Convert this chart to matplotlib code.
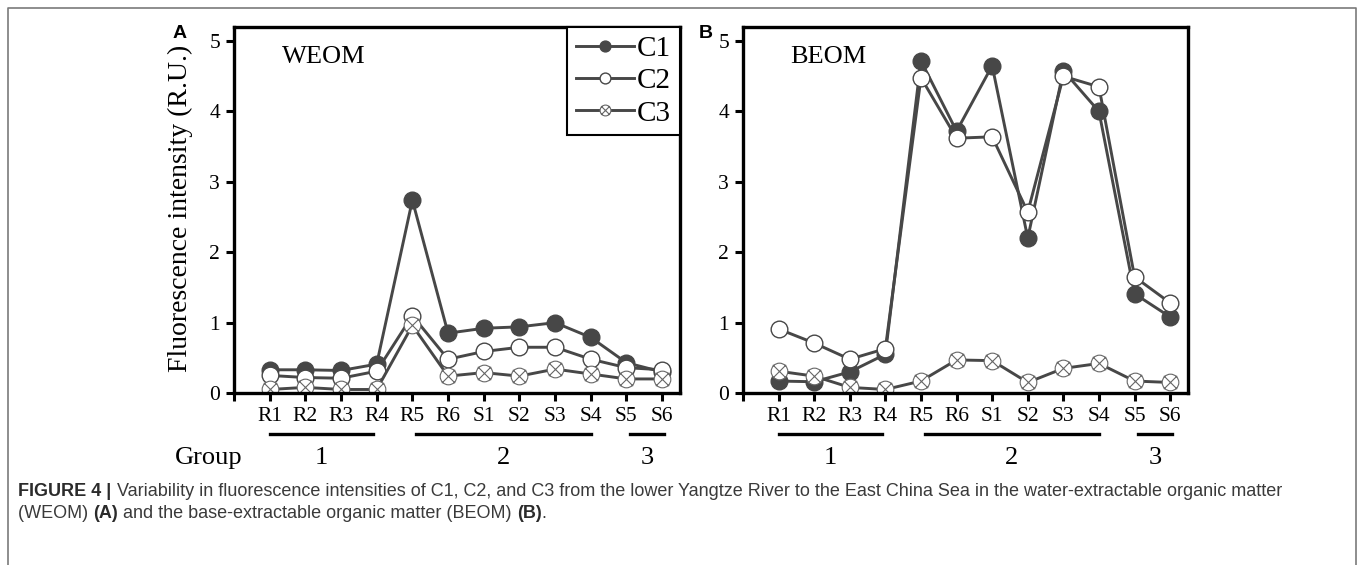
import matplotlib
matplotlib.use("Agg")
import matplotlib.pyplot as plt
from matplotlib.path import Path
from matplotlib.lines import Line2D
import numpy as np

SERIF = "Liberation Serif"
SANS = "Liberation Sans"
LINE = "#474747"

sites = ["R1", "R2", "R3", "R4", "R5", "R6", "S1", "S2", "S3", "S4", "S5", "S6"]
groups = ["1", "2", "3"]
group_span = [(1.0, 3.9), (5.1, 10.0), (11.1, 12.05)]

weom_c1 = [0.33, 0.33, 0.32, 0.41, 2.74, 0.85, 0.92, 0.94, 1.00, 0.79, 0.43, 0.30]
weom_c2 = [0.25, 0.22, 0.21, 0.31, 1.10, 0.48, 0.59, 0.65, 0.65, 0.48, 0.36, 0.33]
weom_c3 = [0.05, 0.08, 0.05, 0.05, 0.96, 0.24, 0.29, 0.24, 0.34, 0.27, 0.20, 0.20]

beom_c1 = [0.17, 0.16, 0.30, 0.55, 4.72, 3.72, 4.65, 2.20, 4.58, 4.00, 1.41, 1.08]
beom_c2 = [0.91, 0.71, 0.48, 0.63, 4.48, 3.62, 3.64, 2.57, 4.50, 4.35, 1.65, 1.28]
beom_c3 = [0.31, 0.24, 0.08, 0.05, 0.17, 0.47, 0.46, 0.15, 0.35, 0.42, 0.17, 0.15]

# circle with a cross inside, for C3
circ = Path.unit_circle()
cross = Path([(-0.8, -0.8), (0.8, 0.8), (-0.8, 0.8), (0.8, -0.8)],
             [Path.MOVETO, Path.LINETO, Path.MOVETO, Path.LINETO])
OX = Path.make_compound_path(circ, cross)

fig = plt.figure(figsize=(13.58, 5.65), dpi=100, facecolor="white")

# page frame (left/top/right)
fig.add_artist(Line2D([0.006, 0.006, 0.9985, 0.9985], [0.0, 0.986, 0.986, 0.0],
                      transform=fig.transFigure, color="#7a7a7a", lw=1.2))

x = np.arange(1, len(sites) + 1)


def panel(rect, c1, c2, c3, name):
    ax = fig.add_axes(rect)
    ax.plot(x, c1, color=LINE, lw=2.1, marker="o", ms=12, mfc=LINE, mec=LINE, mew=1, label="C1")
    ax.plot(x, c2, color=LINE, lw=2.1, marker="o", ms=12, mfc="white", mec=LINE, mew=1, label="C2")
    ax.plot(x, c3, color=LINE, lw=2.1, marker=OX, ms=12, mfc="white", mec="#666666", mew=0.8,
            label="C3")
    ax.set_xlim(0, 12.5)
    ax.set_ylim(0, 5.2)
    ax.set_xticks(np.arange(0, 13))
    ax.set_xticklabels([""] + sites, family=SERIF, fontsize=15.5)
    ax.set_yticks(np.arange(0, 6))
    ax.set_yticklabels([str(v) for v in range(6)], family=SERIF, fontsize=15.5)
    ax.tick_params(direction="out", length=6, width=2.2, pad=4, colors="black")
    for s in ax.spines.values():
        s.set_linewidth(2.4)
    ax.text(0.107, 0.918, name, transform=ax.transAxes, family=SERIF, fontsize=19,
            va="center", ha="left")
    # group bars + labels under the axis
    for g, (a, b) in zip(groups, group_span):
        ax.plot([a, b], [-0.112, -0.112], color="black", lw=2.4,
                transform=ax.get_xaxis_transform(), clip_on=False)
        ax.text((a + b) / 2, -0.178, g, transform=ax.get_xaxis_transform(), family=SERIF,
                fontsize=19, ha="center", va="center")
    return ax


axA = panel([0.1723, 0.3044, 0.3284, 0.6478], weom_c1, weom_c2, weom_c3, "WEOM")
axB = panel([0.5471, 0.3044, 0.3277, 0.6478], beom_c1, beom_c2, beom_c3, "BEOM")

axA.text(-0.056, -0.178, "Group", transform=axA.transAxes, family=SERIF, fontsize=19,
         ha="center", va="center")

leg = axA.legend(loc="upper right", borderaxespad=0, prop={"family": SERIF, "size": 21},
                 markerscale=0.65, handlelength=2.0, handletextpad=0.1, labelspacing=0.2,
                 borderpad=0.3, fancybox=False, edgecolor="black", framealpha=1)
leg.get_frame().set_linewidth(1.5)

fig.text(0.1325, 0.632, "Fluorescence intensity (R.U.)", family=SERIF, fontsize=20,
         rotation=90, ha="center", va="center")
fig.text(0.1325, 0.94, "A", family=SANS, weight="bold", fontsize=14, ha="center", va="center")
fig.text(0.5199, 0.94, "B", family=SANS, weight="bold", fontsize=14, ha="center", va="center")

# caption with mixed bold / regular runs
renderer = fig.canvas.get_renderer()


def rich(x0, y0, parts, size=13.0):
    xx = x0
    for s, bold in parts:
        t = fig.text(xx, y0, s, family=SANS, fontsize=size, weight="bold" if bold else "normal",
                     color="#2b2b2b" if bold else "#3a3a3a", ha="left", va="center")
        bb = t.get_window_extent(renderer)
        xx += bb.width / fig.bbox.width


rich(0.0135, 1 - 491 / 565, [
    ("FIGURE 4 | ", True),
    ("Variability in fluorescence intensities of C1, C2, and C3 from the lower Yangtze River to the "
     "East China Sea in the water-extractable organic matter", False)])
rich(0.0135, 1 - 513 / 565, [
    ("(WEOM) ", False), ("(A)", True), (" and the base-extractable organic matter (BEOM) ", False),
    ("(B)", True), (".", False)])

fig.savefig("out.png", dpi=100, facecolor="white")
